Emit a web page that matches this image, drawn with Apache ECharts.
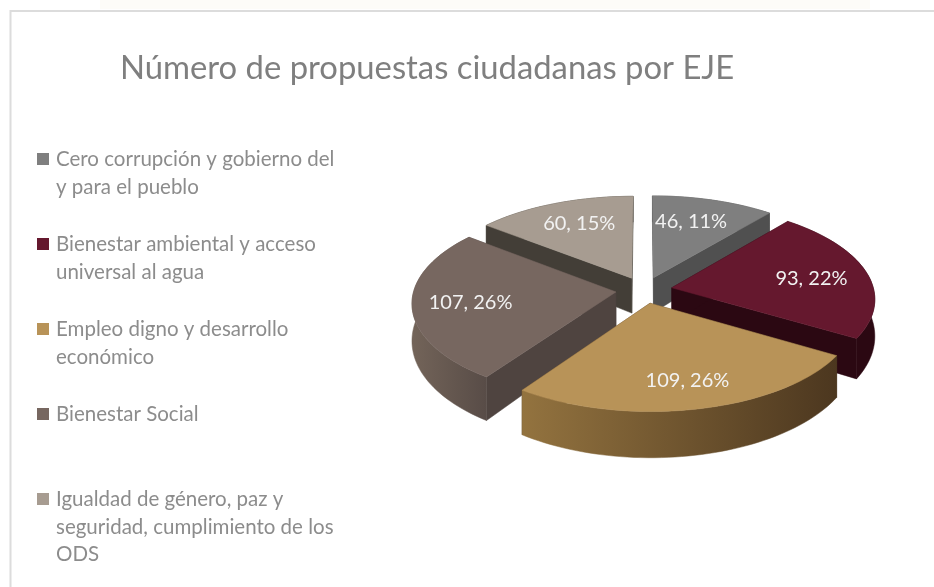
<!DOCTYPE html>
<html><head><meta charset="utf-8">
<style>html,body{margin:0;padding:0;background:#fff}#c{width:934px;height:587px;filter:blur(0.45px)}</style>
<script src="https://cdn.jsdelivr.net/npm/echarts@6/dist/echarts.min.js"></script>
</head><body><div id="c"></div>
<script>
const titleText = 'Número de propuestas ciudadanas por EJE';
const categories = [
  'Cero corrupción y gobierno del\ny para el pueblo',
  'Bienestar ambiental y acceso\nuniversal al agua',
  'Empleo digno y desarrollo\neconómico',
  'Bienestar Social',
  'Igualdad de género, paz y\nseguridad, cumplimiento de los\nODS'
];
const values = [46, 93, 109, 107, 60];
const percents = [11, 22, 26, 26, 15];
const topColors = ['#7f7f7f', '#65182e', '#b89358', '#776760', '#a79c91'];
const wallColors = ['#505050', '#2b0812', '#4d3820', '#4f4440', '#433e37'];
const rimFrom = ['#505050', '#2b0812', '#93733f', '#736459', '#433e37'];
const rimTo = ['#505050', '#2b0812', '#4c371f', '#584c47', '#433e37'];
const legendSwatch = ['#7f7f7f', '#65182e', '#b89358', '#776760', '#a79c91'];
const drawRank = [0, 2, 4, 3, 1];
const labelFraction = [0.6, 0.72, 0.75, 0.75, 0.6];
const labelNudge = [[0, -7], [-1, 2], [2, 0], [7, 0], [-4, -8]];

const CX = 644, CY = 290, AX = 202, BY = 95, EXPLODE = 0.14, PERSP = 0.11;
const total = values.reduce((a, b) => a + b, 0);

function proj(X, Y) {
  const s = 1 + PERSP * Y;
  return [CX + AX * X * s, CY + BY * Y * s];
}
function depth(Y) { return 36 * (1 + 0.25 * Y); }
function down(X, Y) {
  const p = proj(X, Y);
  return [p[0], p[1] + depth(Y)];
}
function angles(i) {
  let a = 0;
  for (let k = 0; k < i; k++) a += values[k];
  return [a / total * 2 * Math.PI, (a + values[i]) / total * 2 * Math.PI];
}

function renderItem(params, api) {
  const i = params.dataIndex;
  const [a0, a1] = angles(i);
  const mid = (a0 + a1) / 2;
  const ox = EXPLODE * Math.sin(mid), oy = -EXPLODE * Math.cos(mid);
  const rim = [];
  const steps = Math.max(6, Math.round((a1 - a0) / 0.03));
  for (let k = 0; k <= steps; k++) {
    const t = a0 + (a1 - a0) * k / steps;
    rim.push([ox + Math.sin(t), oy - Math.cos(t)]);
  }
  const apex = [ox, oy];
  const first = rim[0], last = rim[rim.length - 1];
  const base = 10 * drawRank[i];
  const poly = (pts, fill, z) => ({
    type: 'polygon', z2: base + z, silent: true,
    shape: { points: pts },
    style: { fill: fill, stroke: fill, lineWidth: 0.5 }
  });
  const wall = (q) => [proj(apex[0], apex[1]), proj(q[0], q[1]), down(q[0], q[1]), down(apex[0], apex[1])];
  const rimWall = rim.map(q => proj(q[0], q[1])).concat(rim.slice().reverse().map(q => down(q[0], q[1])));
  const topFace = [proj(apex[0], apex[1])].concat(rim.map(q => proj(q[0], q[1])));
  const lf = labelFraction[i];
  const lp = proj(ox + lf * Math.sin(mid), oy - lf * Math.cos(mid));
  return {
    type: 'group',
    children: [
      poly(wall(last), wallColors[i], 1),
      poly(wall(first), wallColors[i], 2),
      poly(rimWall, new echarts.graphic.LinearGradient(0, 0, 1, 0, [
        { offset: 0, color: rimFrom[i] }, { offset: 1, color: rimTo[i] }
      ]), 3),
      poly(topFace, topColors[i], 4),
      {
        type: 'text', z2: 100, silent: true,
        x: lp[0] + labelNudge[i][0], y: lp[1] + labelNudge[i][1],
        style: {
          text: values[i] + ', ' + percents[i] + '%',
          fill: '#f2f2f2', font: '20px Lato', align: 'center', verticalAlign: 'middle'
        }
      }
    ]
  };
}

const legendGraphics = [];
categories.forEach((c, i) => {
  const y = 159 + 85 * i;
  legendGraphics.push({
    type: 'rect', left: 37, top: y - 6, z: 5,
    shape: { width: 12, height: 12 }, style: { fill: legendSwatch[i] }
  });
  legendGraphics.push({
    type: 'text', left: 56, top: y - 13, z: 5,
    style: { text: c, fill: '#8c8c8c', font: '20.5px Lato', lineHeight: 27.5 }
  });
});

const chart = echarts.init(document.getElementById('c'), null, { renderer: 'canvas' });
chart.setOption({
  animation: false,
  backgroundColor: '#ffffff',
  title: {
    text: titleText, left: 115, top: 47,
    textStyle: { color: '#7f7f7f', fontFamily: 'Lato', fontSize: 32.8, fontWeight: 'normal' }
  },
  graphic: [
    { type: 'rect', left: 100, top: 0, z: 0, shape: { width: 770, height: 9 }, style: { fill: '#fdfcf8' } },
    { type: 'polyline', z: 1, shape: { points: [[10.5, 587], [10.5, 11], [934, 11]] }, style: { stroke: '#dcdcdc', lineWidth: 2, fill: null } }
  ].concat(legendGraphics),
  series: [{
    type: 'custom',
    coordinateSystem: 'none',
    data: categories.map((c, i) => ({ name: c, value: values[i] })),
    renderItem: renderItem
  }]
});
</script></body></html>
